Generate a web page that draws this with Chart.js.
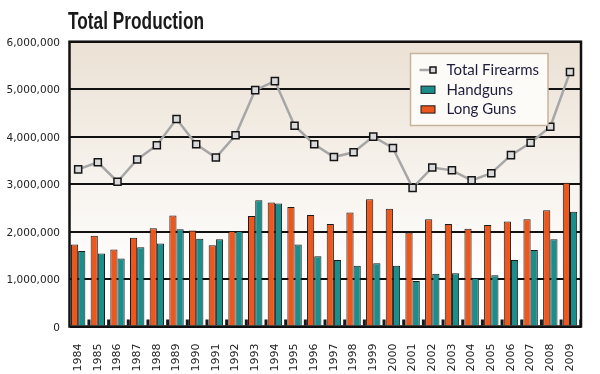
<!DOCTYPE html>
<html>
<head>
<meta charset="utf-8">
<title>Total Production</title>
<script src="https://cdn.jsdelivr.net/npm/chart.js@4.4.1/dist/chart.umd.min.js"></script>
<style>
  html, body { margin: 0; padding: 0; background: #fff; }
  canvas { display: block; }
</style>
</head>
<body>
<canvas id="productionChart" width="600" height="374"></canvas>
<script>
// Firearms production per year
const years = [1984, 1985, 1986, 1987, 1988, 1989, 1990, 1991, 1992, 1993, 1994, 1995, 1996,
  1997, 1998, 1999, 2000, 2001, 2002, 2003, 2004, 2005, 2006, 2007, 2008, 2009];
const totalFirearms = [3310000, 3460000, 3050000, 3520000, 3820000, 4370000, 3840000, 3560000,
  4030000, 4980000, 5170000, 4230000, 3840000, 3570000, 3670000, 4000000, 3760000, 2920000,
  3350000, 3290000, 3080000, 3230000, 3610000, 3870000, 4210000, 5360000];
const handguns = [1590000, 1540000, 1430000, 1670000, 1750000, 2050000, 1850000, 1840000,
  2010000, 2660000, 2590000, 1730000, 1480000, 1400000, 1280000, 1330000, 1280000, 960000,
  1110000, 1120000, 1020000, 1080000, 1400000, 1610000, 1840000, 2420000];
const longGuns = [1730000, 1910000, 1620000, 1870000, 2070000, 2340000, 2020000, 1710000,
  2010000, 2330000, 2610000, 2520000, 2350000, 2160000, 2400000, 2680000, 2480000, 1980000,
  2260000, 2160000, 2060000, 2140000, 2210000, 2260000, 2450000, 3030000];
// the thin dark stubs at the foot of each group (not in the legend)
const otherGuns = [150000, 150000, 150000, 150000, 150000, 150000, 150000, 150000, 150000,
  150000, 150000, 150000, 150000, 150000, 150000, 150000, 150000, 150000, 150000, 150000,
  150000, 150000, 150000, 150000, 150000, 150000];
const yTicks = [0, 1000000, 2000000, 3000000, 4000000, 5000000, 6000000];
const legendOrder = ['Total Firearms', 'Handguns', 'Long Guns'];
const chartTitle = 'Total Production';

const teal = '#1b8e8b';
const orange = '#ec571d';

// beige-to-white wash behind the plot
const plotBackground = {
  id: 'plotBackground',
  beforeDraw(chart) {
    const { ctx, chartArea: a } = chart;
    const g = ctx.createLinearGradient(0, a.top, 0, a.bottom);
    g.addColorStop(0, '#ebe1d4');
    g.addColorStop(0.83, '#ffffff');
    ctx.save();
    ctx.fillStyle = g;
    ctx.fillRect(a.left, a.top, a.right - a.left, a.bottom - a.top);
    ctx.restore();
  }
};

// black frame round the plot, the boxed legend and the narrow title
const frameAndLegend = {
  id: 'frameAndLegend',
  afterDatasetsDraw(chart) {
    const { ctx, chartArea: a } = chart;
    ctx.save();
    ctx.lineWidth = 2.5;
    ctx.strokeStyle = '#111';
    ctx.strokeRect(a.left, a.top, a.right - a.left, a.bottom - a.top);

    const bx = 410.5, by = 53.5, bw = 137.5, bh = 72;
    ctx.fillStyle = '#fdfbf8';
    ctx.fillRect(bx, by, bw, bh);
    ctx.lineWidth = 1.5;
    ctx.strokeStyle = '#c7b39b';
    ctx.strokeRect(bx, by, bw, bh);

    ctx.font = '15px Lato';
    ctx.textBaseline = 'middle';
    legendOrder.forEach((label, i) => {
      const ds = chart.data.datasets.find(d => d.label === label);
      const cy = by + 16.5 + i * 19.7;
      if (ds.type === 'line') {
        ctx.strokeStyle = ds.borderColor;
        ctx.lineWidth = 2.5;
        ctx.beginPath();
        ctx.moveTo(bx + 9, cy);
        ctx.lineTo(bx + 22, cy);
        ctx.stroke();
        ctx.fillStyle = ds.pointBackgroundColor;
        ctx.fillRect(bx + 19.5, cy - 3, 6, 6);
        ctx.lineWidth = 1.5;
        ctx.strokeStyle = ds.pointBorderColor;
        ctx.strokeRect(bx + 19.5, cy - 3, 6, 6);
      } else {
        ctx.fillStyle = ds.backgroundColor;
        ctx.fillRect(bx + 10.5, cy - 3.6, 14, 7.3);
        ctx.lineWidth = 1;
        ctx.strokeStyle = '#1a1a1a';
        ctx.strokeRect(bx + 10.5, cy - 3.6, 14, 7.3);
      }
      ctx.fillStyle = '#1d1d3b';
      ctx.fillText(label, bx + 36, cy);
    });

    // title in a condensed bold face, squeezed to the original width
    ctx.font = 'bold 22px "Liberation Sans"';
    ctx.textBaseline = 'alphabetic';
    const tw = ctx.measureText(chartTitle).width;
    ctx.translate(68, 28.5);
    ctx.scale(136 / tw, 1.05);
    ctx.fillStyle = '#1a1a1a';
    ctx.fillText(chartTitle, 0, 0);
    ctx.restore();
  }
};

const ctx = document.getElementById('productionChart').getContext('2d');
new Chart(ctx, {
  type: 'bar',
  data: {
    labels: years,
    datasets: [{
      type: 'line',
      label: 'Total Firearms',
      data: totalFirearms,
      borderColor: '#a6a6a6',
      borderWidth: 2.5,
      pointStyle: 'rect',
      pointRadius: 5,
      pointBorderWidth: 1.5,
      pointBorderColor: '#151515',
      pointBackgroundColor: '#dadada',
      tension: 0,
      fill: false
    }, {
      // empty slot so the long gun / handgun pair sits on the tick
      type: 'bar',
      label: '',
      data: []
    }, {
      type: 'bar',
      label: 'Long Guns',
      data: longGuns,
      backgroundColor: orange,
      borderColor: '#1a1a1a',
      borderWidth: 1
    }, {
      type: 'bar',
      label: 'Handguns',
      data: handguns,
      backgroundColor: teal,
      borderColor: '#1a1a1a',
      borderWidth: 1
    }, {
      type: 'bar',
      label: 'Other',
      data: otherGuns,
      backgroundColor: '#1a1a1a',
      borderWidth: 0,
      barPercentage: 0.42
    }]
  },
  options: {
    responsive: false,
    animation: false,
    devicePixelRatio: 1,
    layout: { padding: { left: 0, right: 19, top: 41.7, bottom: 0 } },
    datasets: {
      bar: { categoryPercentage: 1.464, barPercentage: 1 }
    },
    plugins: {
      legend: { display: false },
      tooltip: { enabled: false },
      title: { display: false }
    },
    scales: {
      x: {
        type: 'linear',
        min: years[0] - 0.44,
        max: years[years.length - 1] + 0.56,
        offset: false,
        grid: { display: false },
        border: { display: false },
        afterBuildTicks: s => { s.ticks = years.map(v => ({ value: v })); },
        afterFit: s => { s.height = 47.5; },
        ticks: {
          autoSkip: false,
          minRotation: 90,
          maxRotation: 90,
          padding: 9,
          color: '#222',
          font: { family: 'DejaVu Sans', size: 11 },
          callback: v => String(v)
        }
      },
      y: {
        min: 0,
        max: 6000000,
        afterBuildTicks: s => { s.ticks = yTicks.map(v => ({ value: v })); },
        afterFit: s => { s.width = 69.5; },
        grid: { color: '#111', lineWidth: 2, drawTicks: false },
        border: { display: false },
        ticks: {
          padding: 9.5,
          labelOffset: 1.5,
          color: '#222',
          font: { family: 'DejaVu Sans', size: 10.5 },
          callback: v => v.toLocaleString('en-US')
        }
      }
    }
  },
  plugins: [plotBackground, frameAndLegend]
});
</script>
</body>
</html>
